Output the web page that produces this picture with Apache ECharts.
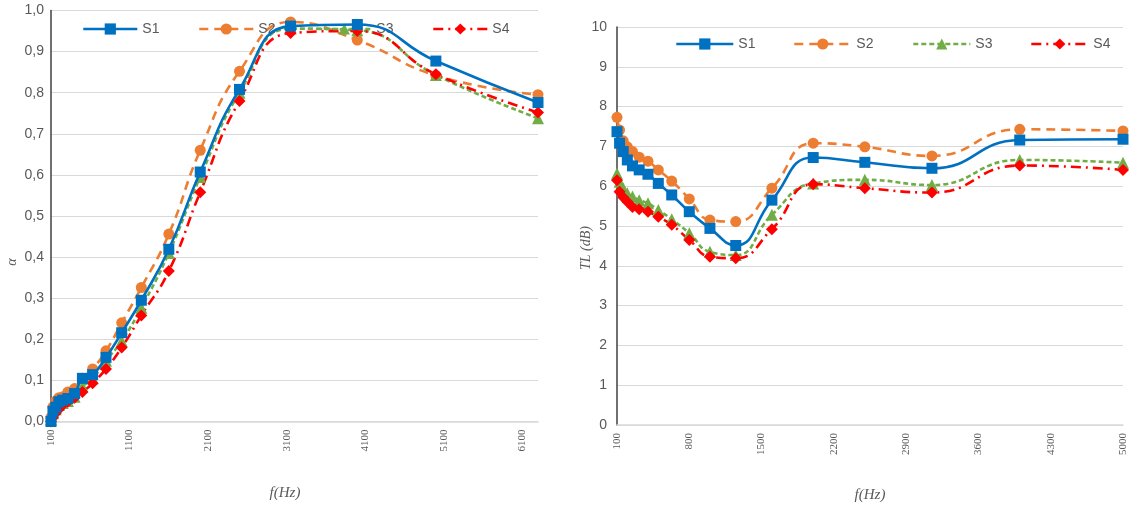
<!DOCTYPE html>
<html><head><meta charset="utf-8">
<script src="https://cdn.jsdelivr.net/npm/echarts@6/dist/echarts.min.js"></script>
<style>html,body{margin:0;padding:0;background:#fff}#c{width:1130px;height:511px}</style>
</head><body><div id="c"></div><script>
// ---- data ----
const freqA = [100,125,160,200,250,315,400,500,630,800,1000,1250,1600,2000,2500,3150,4000,5000,6300];
const alphaS1 = [0.00,0.025,0.035,0.048,0.052,0.056,0.068,0.105,0.114,0.156,0.216,0.295,0.419,0.607,0.808,0.962,0.966,0.877,0.776];
const alphaS2 = [0.01,0.035,0.05,0.058,0.06,0.072,0.08,0.105,0.128,0.172,0.24,0.326,0.456,0.66,0.852,0.972,0.928,0.842,0.795];
const alphaS3 = [0.005,0.02,0.03,0.04,0.045,0.05,0.06,0.085,0.105,0.148,0.196,0.277,0.41,0.595,0.80,0.956,0.952,0.843,0.738];
const alphaS4 = [0.0,0.01,0.02,0.03,0.04,0.048,0.058,0.072,0.093,0.128,0.18,0.258,0.366,0.558,0.78,0.945,0.95,0.845,0.752];
const xTicksA = [100,1100,2100,3100,4100,5100,6100];

const freqTL = [100,125,160,200,250,315,400,500,630,800,1000,1250,1600,2000,2500,3150,4000,5000];
const tlS1 = [7.37,7.08,6.87,6.66,6.51,6.41,6.30,6.07,5.78,5.36,4.94,4.51,5.65,6.72,6.60,6.45,7.16,7.18];
const tlS2 = [7.73,7.41,7.14,6.99,6.87,6.73,6.63,6.41,6.13,5.68,5.15,5.11,5.95,7.08,6.99,6.76,7.43,7.39];
const tlS3 = [6.32,6.11,5.95,5.82,5.74,5.65,5.57,5.40,5.17,4.82,4.35,4.27,5.28,6.07,6.16,6.03,6.66,6.59];
const tlS4 = [6.15,5.86,5.72,5.61,5.48,5.42,5.36,5.23,5.03,4.65,4.23,4.19,4.92,6.05,5.95,5.84,6.52,6.41];
const xTicksTL = [100,800,1500,2200,2900,3600,4300,5000];

const names = ['S1','S2','S3','S4'];
// ---- styles ----
const styles = {
  S1:{color:'#0070C0', type:'solid', symbol:'rect', size:11},
  S2:{color:'#ED7D31', type:[9,6], symbol:'circle', size:11},
  S3:{color:'#70AD47', type:[5,3], symbol:'triangle', size:12},
  S4:{color:'#FF0000', type:[10,5,2,5], symbol:'diamond', size:12}
};
const FONT = '"Liberation Sans Narrow","Liberation Sans",Arial,sans-serif';
const GREY = '#595959';

function mk(name, xs, ys, idx){
  const s = styles[name];
  return {
    name, type:'line', xAxisIndex:idx, yAxisIndex:idx,
    data: xs.map((x,i)=>[x, ys[i]]),
    smooth:0.5, symbol:s.symbol, symbolSize:s.size, showSymbol:true,
    itemStyle:{color:s.color},
    lineStyle:{color:s.color, width:2.6, type:s.type},
    emphasis:{disabled:true}, animation:false, z: name==='S1'?5:3
  };
}

const series = [];
const A = [alphaS1, alphaS2, alphaS3, alphaS4];
const T = [tlS1, tlS2, tlS3, tlS4];
names.forEach((n,i)=>series.push(mk(n, freqA, A[i], 0)));
names.forEach((n,i)=>series.push(mk(n, freqTL, T[i], 1)));

function legendAt(name, left, top, w){
  return {data:[name], left, top, itemWidth:w, itemHeight:14, itemGap:0,
    lineStyle:{width:2.6},
    textStyle:{color:GREY, fontSize:14, fontFamily:FONT},
    selectedMode:false};
}
const legends = [
  legendAt('S1',77,17,54), legendAt('S2',193,17,54), legendAt('S3',311,17,54), legendAt('S4',427,17,54),
  legendAt('S1',670,32,57), legendAt('S2',788,32,57), legendAt('S3',907,32,57), legendAt('S4',1025,32,57)
];

function xAxis(idx, min, max, ticks){
  return {type:'value', gridIndex:idx, min, max,
    axisLine:{show:true, lineStyle:{color:'#d9d9d9', width:1.5}},
    axisTick:{show:false}, splitLine:{show:false},
    axisLabel:{customValues:ticks, formatter:v=>String(v), rotate:90, fontSize:11, color:GREY, margin:8,
      fontFamily:'"Liberation Serif","DejaVu Serif",serif'}};
}
function yAxis(idx, max, interval, fmt, margin, fs){
  return {type:'value', gridIndex:idx, min:0, max, interval,
    axisLine:{show:true, lineStyle:{color:'#404040', width:1.5}},
    axisTick:{show:false},
    splitLine:{show:true, lineStyle:{color:'#d9d9d9', width:1}},
    axisLabel:{formatter:fmt, color:GREY, fontSize:fs, fontFamily:FONT, margin}};
}

const chart = echarts.init(document.getElementById('c'), null, {renderer:'canvas'});
chart.setOption({
  backgroundColor:'#fff',
  animation:false,
  grid:[
    {left:51, top:10.5, width:487, height:411},
    {left:617, top:27, width:506, height:398}
  ],
  xAxis:[xAxis(0,100,6300,xTicksA), xAxis(1,100,5000,xTicksTL)],
  yAxis:[
    yAxis(0,1,0.1,v=>v.toFixed(1).replace('.',','),7,14),
    yAxis(1,10,1,v=>String(v),10,14)
  ],
  legend:legends,
  graphic:[
    {type:'text', x:285, y:493, style:{text:'f(Hz)', fill:GREY, font:'italic 15px "Liberation Serif","DejaVu Serif",serif', align:'center', verticalAlign:'middle'}},
    {type:'text', x:870, y:495, style:{text:'f(Hz)', fill:GREY, font:'italic 15px "Liberation Serif","DejaVu Serif",serif', align:'center', verticalAlign:'middle'}},
    {type:'text', x:12, y:262, rotation:Math.PI/2, style:{text:'α', fill:GREY, font:'italic 14px "Liberation Serif","DejaVu Serif",serif', align:'center', verticalAlign:'middle'}},
    {type:'text', x:586, y:248, rotation:Math.PI/2, style:{text:'TL (dB)', fill:GREY, font:'italic 14px "Liberation Serif","DejaVu Serif",serif', align:'center', verticalAlign:'middle'}}
  ],
  series
});
</script></body></html>
